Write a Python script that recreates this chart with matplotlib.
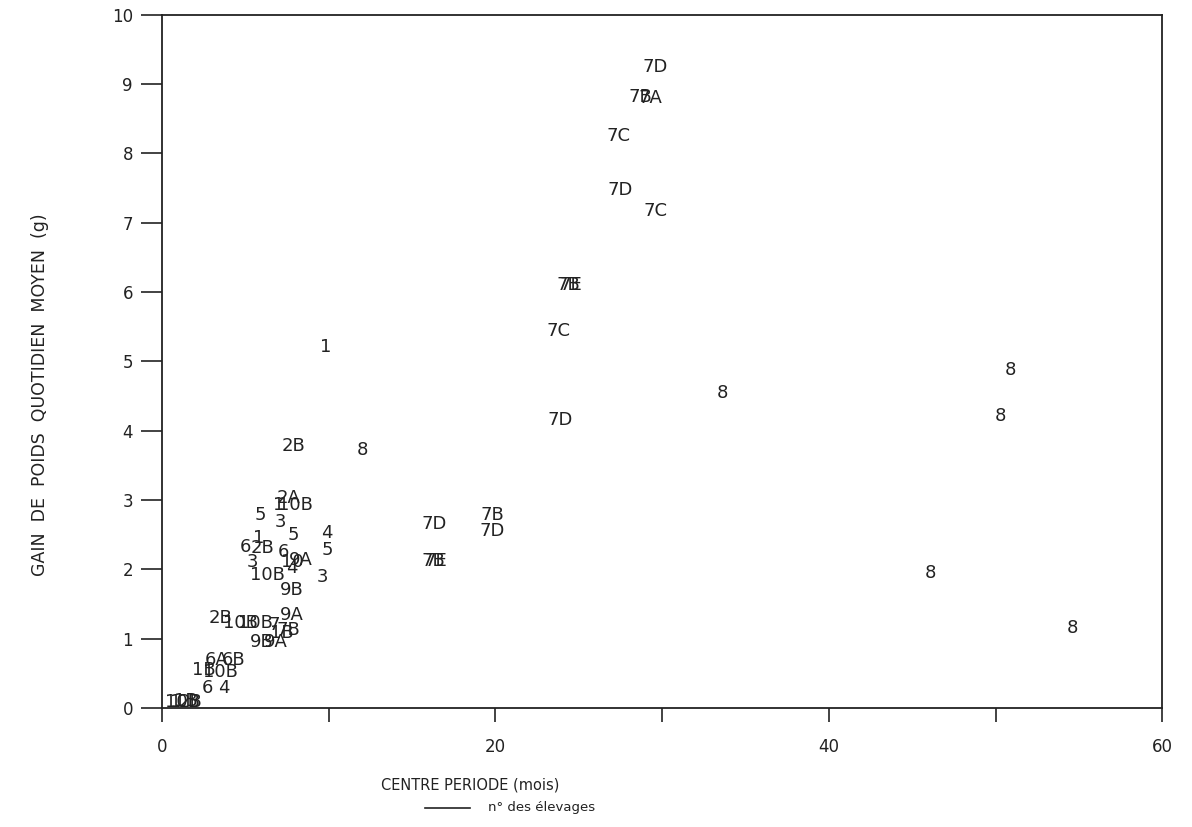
import matplotlib.pyplot as plt

# centre of period (months), mean daily weight gain (g), farm label
labels = ["7D", "7B", "7A", "7C", "7D", "7C", "7B", "7E", "7C", "7D",
          "8", "8", "8", "8", "8", "1", "2B", "8",
          "7D", "7B", "7D", "7B", "7E",
          "5", "1", "2A", "10B", "3", "5", "4", "5",
          "6", "2B", "1", "3", "10B", "6", "10", "9A", "4", "3", "9B",
          "2B", "10B", "10B", "7", "9A", "7B", "9B", "9A", "1B",
          "6A", "6B", "1B", "10B", "6", "4",
          "1", "10B", "2B", "1B"]
centre = [29.6, 28.7, 29.3, 27.4, 27.5, 29.6, 24.4, 24.5, 23.8, 23.9,
          33.6, 50.9, 50.3, 46.1, 54.6, 9.8, 7.9, 12.0,
          16.3, 19.8, 19.8, 16.3, 16.4,
          5.9, 7.0, 7.6, 8.0, 7.1, 7.9, 9.9, 9.9,
          5.0, 6.0, 5.8, 5.4, 6.3, 7.3, 7.8, 8.3, 7.8, 9.6, 7.8,
          3.5, 4.7, 5.6, 6.7, 7.8, 7.6, 6.0, 6.8, 7.2,
          3.3, 4.3, 2.5, 3.5, 2.7, 3.7,
          0.8, 1.2, 1.7, 1.4]
gain = [9.25, 8.82, 8.80, 8.25, 7.47, 7.17, 6.10, 6.10, 5.44, 4.16,
        4.55, 4.88, 4.21, 1.95, 1.15, 5.21, 3.78, 3.72,
        2.66, 2.78, 2.55, 2.12, 2.12,
        2.78, 2.93, 3.03, 2.93, 2.68, 2.50, 2.52, 2.28,
        2.32, 2.31, 2.45, 2.10, 1.92, 2.25, 2.10, 2.13, 2.02, 1.89, 1.70,
        1.30, 1.23, 1.23, 1.20, 1.34, 1.13, 0.95, 0.95, 1.08,
        0.69, 0.69, 0.55, 0.52, 0.29, 0.29,
        0.08, 0.08, 0.08, 0.10]

ink = "#222222"
plt.rcParams['font.family'] = ['DejaVu Sans']

fig = plt.figure(figsize=(11.92, 8.27), dpi=100)
ax = fig.add_axes([0.136, 0.144, 0.839, 0.838])

for lab, x, y in zip(labels, centre, gain):
    ax.text(x, y, lab, ha='center', va='center', fontsize=13, color=ink)

ax.set_xlim(0, 60)
ax.set_ylim(0, 10)
ax.set_xticks([0, 10, 20, 30, 40, 50, 60])
ax.set_xticklabels(["0", "", "20", "", "40", "", "60"])
ax.set_yticks(range(0, 11))
ax.tick_params(axis='both', direction='out', length=10, width=1.2,
               colors=ink, labelsize=12)
ax.tick_params(axis='x', pad=12)
ax.tick_params(axis='y', length=15, pad=6)
for s in ax.spines.values():
    s.set_linewidth(1.3)
    s.set_color(ink)

fig.text(40 / 1192, 1 - 395 / 827, "GAIN  DE  POIDS  QUOTIDIEN  MOYEN  (g)",
         rotation=90, ha='center', va='center', fontsize=12.5, color=ink)
fig.text(470 / 1192, 1 - 785 / 827, "CENTRE PERIODE (mois)",
         ha='center', va='center', fontsize=10.5, color=ink)
fig.lines.append(plt.Line2D([425 / 1192, 470 / 1192], [1 - 808 / 827, 1 - 808 / 827],
                            transform=fig.transFigure, color=ink, lw=1.2))
fig.text(488 / 1192, 1 - 808 / 827, "n° des élevages",
         ha='left', va='center', fontsize=9.5, color=ink)

fig.savefig("out.png", dpi=100)
